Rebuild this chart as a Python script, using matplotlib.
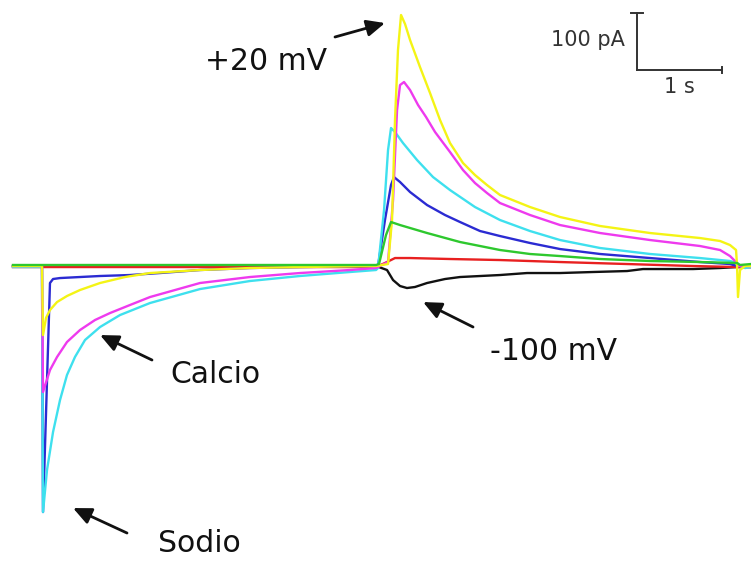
import matplotlib
matplotlib.use("Agg")
import matplotlib.pyplot as plt

# whole-cell current traces, time in s, current in pA
t_yellow = [0, 0.341, 0.353, 0.388, 0.435, 0.518, 0.635, 0.788, 1.024, 1.318, 1.612, 2.2, 2.788,
            3.376, 4.271, 4.412, 4.459, 4.494, 4.529, 4.565, 4.612, 4.671, 4.788, 4.906, 5.024,
            5.141, 5.294, 5.435, 5.576, 5.729, 6.082, 6.435, 6.906, 7.494, 8.082, 8.318, 8.435,
            8.506, 8.518, 8.529, 8.553, 8.612, 8.682]
i_yellow = [0, 0, -121.1, -91.2, -77.2, -63.2, -52.6, -42.1, -29.8, -19.3, -12.3, -7.0, -3.5,
            -1.8, 0, 3.5, 80.7, 256.1, 378.9, 440.4, 424.6, 396.5, 349.1, 303.5, 256.1,
            215.8, 180.7, 159.6, 142.1, 124.6, 103.5, 86.0, 70.2, 57.9, 49.1, 43.9, 36.8,
            28.1, 0, -54.4, -7.0, 0, 0]

t_magenta = [0, 0.341, 0.353, 0.435, 0.518, 0.635, 0.788, 0.965, 1.141, 1.376, 1.612, 2.2, 2.788,
             3.376, 3.965, 4.271, 4.412, 4.471, 4.518, 4.553, 4.6, 4.671, 4.765, 4.859, 4.965,
             5.141, 5.294, 5.435, 5.576, 5.729, 6.082, 6.435, 6.906, 7.494, 8.082, 8.318, 8.435,
             8.506, 8.529, 8.682]
i_magenta = [0, 0, -221.1, -182.5, -159.6, -133.3, -112.3, -94.7, -82.5, -68.4, -54.4, -29.8, -19.3,
             -12.3, -7.0, -3.5, 7.0, 115.8, 273.7, 317.5, 322.8, 308.8, 282.5, 261.4, 235.1,
             200.0, 168.4, 145.6, 128.1, 110.5, 89.5, 71.9, 57.9, 45.6, 35.1, 28.1, 17.5,
             7.0, 0, 0]

t_cyan = [0, 0.341, 0.353, 0.4, 0.471, 0.553, 0.635, 0.729, 0.847, 1.024, 1.259, 1.612, 2.2,
          2.788, 3.376, 3.965, 4.271, 4.294, 4.365, 4.412, 4.447, 4.494, 4.588, 4.753, 4.941,
          5.141, 5.435, 5.729, 6.082, 6.435, 6.906, 7.494, 8.082, 8.435, 8.518, 8.553, 8.612, 8.682]
i_cyan = [-1.8, -1.8, -431.6, -357.9, -291.2, -235.1, -191.2, -159.6, -129.8, -107.0, -86.0, -64.9, -40.4,
          -26.3, -17.5, -10.5, -7.0, -3.5, 98.2, 203.5, 242.1, 235.1, 215.8, 186.0, 156.1,
          133.3, 103.5, 80.7, 61.4, 45.6, 31.6, 21.1, 14.0, 8.8, 5.3, 0, -3.5, -1.8]

t_blue = [0, 0.341, 0.353, 0.435, 0.471, 0.553, 0.788, 1.024, 1.376, 1.729, 2.2, 2.788, 3.376,
          4.271, 4.294, 4.376, 4.447, 4.482, 4.553, 4.671, 4.871, 5.082, 5.259, 5.494, 5.729,
          6.082, 6.435, 6.906, 7.494, 8.082, 8.435, 8.518, 8.682]
i_blue = [0, 0, -431.6, -29.8, -22.8, -21.1, -19.3, -17.5, -15.8, -12.3, -7.0, -3.5, -1.8,
          0, 0, 80.7, 142.1, 156.1, 147.4, 129.8, 107.0, 89.5, 77.2, 61.4, 52.6,
          40.4, 29.8, 21.1, 14.0, 7.0, 3.5, 0, 0]

t_green = [0, 4.271, 4.306, 4.388, 4.447, 4.553, 4.871, 5.259, 5.729, 6.082, 6.435, 6.906,
           7.494, 8.082, 8.518, 8.553, 8.682]
i_green = [1.8, 1.8, 3.5, 54.4, 77.2, 71.9, 57.9, 42.1, 28.1, 21.1, 17.5, 12.3,
           8.8, 7.0, 5.3, 1.8, 3.5]

t_red = [0, 4.271, 4.376, 4.494, 4.671, 5.141, 5.729, 6.435, 7.224, 8.0, 8.518, 8.682]
i_red = [-1.8, -1.8, 5.3, 14.0, 14.0, 12.3, 10.5, 7.0, 3.5, 0, -1.8, -1.8]

t_black = [0, 4.271, 4.4, 4.471, 4.553, 4.635, 4.729, 4.871, 5.082, 5.259, 5.729, 6.047,
           6.435, 6.824, 7.224, 7.412, 8.0, 8.318, 8.518, 8.682]
i_black = [0, 0, -7.0, -24.6, -35.1, -38.6, -36.8, -29.8, -22.8, -19.3, -15.8, -12.3,
           -12.3, -10.5, -8.8, -5.3, -5.3, -3.5, -1.8, -1.8]

# drawing order: later traces sit on top
traces = [
    (t_black, i_black, "#111111"),
    (t_red, i_red, "#e82020"),
    (t_blue, i_blue, "#2b2bd2"),
    (t_cyan, i_cyan, "#3ee0ee"),
    (t_magenta, i_magenta, "#ee3aee"),
    (t_yellow, i_yellow, "#f4f415"),
    (t_green, i_green, "#2ec82e"),
]

fig = plt.figure(figsize=(7.51, 5.61), dpi=100)
ax = fig.add_axes([0, 0, 1, 1])
ax.set_xlim(-0.153, 8.682)
ax.set_ylim(-517.5, 466.7)
ax.axis("off")

for t, cur, col in traces:
    ax.plot(t, cur, color=col, linewidth=1.7, solid_joinstyle="round")

# scale bar: 1 s x 100 pA
x0, y0 = 7.341, 343.9
bar_col = "#333333"
ax.plot([x0, x0], [y0, y0 + 100], color=bar_col, lw=1.4)
ax.plot([x0, x0 + 1], [y0, y0], color=bar_col, lw=1.4)
ax.plot([x0 - 0.065, x0 + 0.065], [y0 + 100, y0 + 100], color=bar_col, lw=1.4)
ax.plot([x0 + 1, x0 + 1], [y0 - 5, y0 + 5], color=bar_col, lw=1.4)
ax.text(x0 - 0.14, y0 + 52, "100 pA", ha="right", va="center", fontsize=15,
        family="DejaVu Sans", color="#333333")
ax.text(x0 + 0.5, y0 - 12, "1 s", ha="center", va="top", fontsize=15,
        family="DejaVu Sans", color="#333333")

# labels with arrows
arrow = dict(arrowstyle="-|>,head_length=1.1,head_width=0.5", color="#111111",
             lw=2, shrinkA=0, shrinkB=0, mutation_scale=10)
lab = dict(fontsize=21.5, family="DejaVu Sans", color="#111111", ha="left", va="baseline")

ax.text(2.259, 343.9, "+20 mV", **lab)
ax.annotate("", xy=(4.376, 426.3), xytext=(3.788, 401.8), arrowprops=arrow)

ax.text(5.612, -164.9, "-100 mV", **lab)
ax.annotate("", xy=(4.824, -63.2), xytext=(5.412, -107.0), arrowprops=arrow)

ax.text(1.847, -205.3, "Calcio", **lab)
ax.annotate("", xy=(1.024, -121.1), xytext=(1.635, -164.9), arrowprops=arrow)

ax.text(1.706, -501.8, "Sodio", **lab)
ax.annotate("", xy=(0.706, -424.6), xytext=(1.341, -468.4), arrowprops=arrow)

fig.savefig("out.png", dpi=100)
